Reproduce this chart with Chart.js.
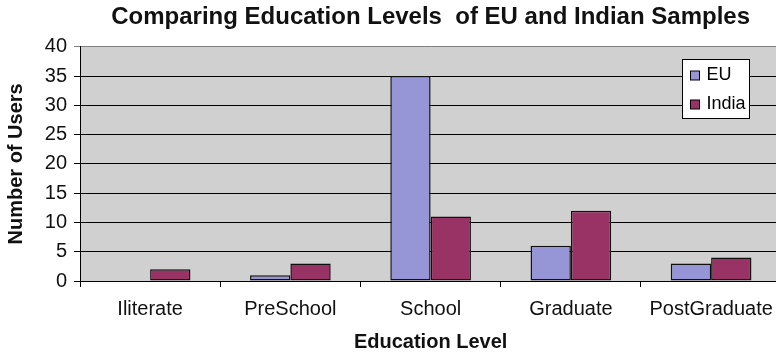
<!DOCTYPE html>
<html>
<head>
<meta charset="utf-8">
<title>Education Levels</title>
<script src="https://cdn.jsdelivr.net/npm/chart.js@4.4.1/dist/chart.umd.min.js"></script>
<style>
  html, body { margin: 0; padding: 0; background: #fff; overflow: hidden; }
  #eduChart { display: block; }
</style>
</head>
<body>
<canvas id="eduChart" width="783" height="354"></canvas>
<script>
// 학력별 사용자 수 (EU / India)
const categories = ['Iliterate', 'PreSchool', 'School', 'Graduate', 'PostGraduate'];
const euUsers    = [0, 1, 35, 6, 3];
const indiaUsers = [2, 3, 11, 12, 4];
const yMax  = 40;
const yStep = 5;

const FONT = '"Liberation Sans", Arial, Helvetica, sans-serif';

// 플롯 영역 회색 배경
const plotBackground = {
  id: 'plotBackground',
  beforeDraw(chart) {
    const a = chart.chartArea, ctx = chart.ctx;
    ctx.save();
    ctx.fillStyle = '#d0d0d0';
    ctx.fillRect(a.left, a.top, a.right - a.left, a.bottom - a.top);
    ctx.restore();
  }
};

// 범례 박스 (플롯 안쪽 오른쪽 위)
const boxLegend = {
  id: 'boxLegend',
  afterDatasetsDraw(chart) {
    const a = chart.chartArea, ctx = chart.ctx;
    const sets = chart.data.datasets;
    ctx.save();
    ctx.font = '18px ' + FONT;
    let textW = 0;
    sets.forEach(ds => { textW = Math.max(textW, ctx.measureText(ds.label).width); });
    const w = Math.round(8 + 9 + 7 + textW + 4);
    const h = 59;
    const x = Math.round(a.right - 32 - w) + 0.5;
    const y = Math.round(a.top + 12) + 0.5;
    ctx.fillStyle = '#fff';
    ctx.fillRect(x, y, w, h);
    ctx.strokeStyle = '#000';
    ctx.lineWidth = 1;
    ctx.strokeRect(x, y, w, h);
    sets.forEach((ds, i) => {
      const cy = y + 16 + i * 29;
      ctx.fillStyle = ds.backgroundColor;
      ctx.fillRect(x + 8, cy - 4.5, 9, 9);
      ctx.strokeStyle = '#000';
      ctx.strokeRect(x + 8, cy - 4.5, 9, 9);
      ctx.fillStyle = '#000';
      ctx.textBaseline = 'middle';
      ctx.textAlign = 'left';
      ctx.fillText(ds.label, x + 8 + 9 + 7, cy);
    });
    ctx.restore();
  }
};

const data = {
  labels: categories,
  datasets: [{
    label: 'EU',
    data: euUsers,
    backgroundColor: '#9696d6',
    borderColor: '#111',
    borderWidth: 1.5,
    borderSkipped: false,
    inflateAmount: 0
  }, {
    label: 'India',
    data: indiaUsers,
    backgroundColor: '#993366',
    borderColor: '#111',
    borderWidth: 1.5,
    borderSkipped: false,
    inflateAmount: 0
  }]
};

const config = {
  type: 'bar',
  data: data,
  options: {
    responsive: false,
    animation: false,
    devicePixelRatio: 1,
    layout: { padding: 0 },
    datasets: {
      bar: { barPercentage: 1, categoryPercentage: 0.575 }
    },
    plugins: {
      legend: { display: false },
      tooltip: { enabled: false },
      title: {
        display: true,
        text: 'Comparing Education Levels  of EU and Indian Samples',
        fullSize: false,
        color: '#111',
        font: { family: FONT, size: 24, weight: 'bold' },
        padding: { top: 3, bottom: 15 }
      }
    },
    scales: {
      x: {
        afterFit(scale) { scale.height = 73; },
        border: { display: true, color: '#000', width: 1 },
        grid: {
          offset: true,
          drawOnChartArea: false,
          drawTicks: true,
          tickLength: 6,
          color: '#000'
        },
        ticks: {
          color: '#111',
          padding: 10,
          font: { family: FONT, size: 20 },
          maxRotation: 0,
          autoSkip: false
        },
        title: {
          display: true,
          text: 'Education Level',
          color: '#111',
          font: { family: FONT, size: 20, weight: 'bold' },
          padding: { top: 0, bottom: 0 }
        }
      },
      y: {
        min: 0,
        max: yMax,
        afterFit(scale) { scale.width = 80; },
        border: { display: true, color: '#000', width: 1 },
        grid: {
          drawTicks: true,
          tickLength: 6,
          color: ctx => (ctx.tick && ctx.tick.value === yMax) ? '#808080' : '#000'
        },
        ticks: {
          stepSize: yStep,
          color: '#111',
          padding: 7,
          font: { family: FONT, size: 20 }
        },
        title: {
          display: true,
          text: 'Number of Users',
          color: '#111',
          font: { family: FONT, size: 20, weight: 'bold' },
          padding: { top: 4, bottom: 0 }
        }
      }
    }
  },
  plugins: [plotBackground, boxLegend]
};

// 차트 그리기
const ctx = document.getElementById('eduChart');
const eduChart = new Chart(ctx, config);
</script>
</body>
</html>
